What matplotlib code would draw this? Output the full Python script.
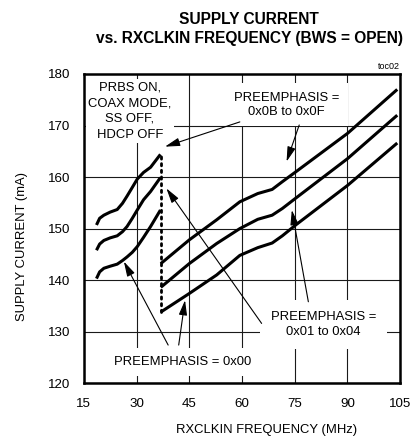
import matplotlib
matplotlib.use("Agg")
import matplotlib.pyplot as plt

plt.rcParams['font.family'] = ['Liberation Sans', 'DejaVu Sans']

# low-frequency segments (left of the dotted line)
low_x = [18.6, 19.5, 20.7, 22.5, 24.5, 26.0, 27.3, 28.8, 30.2, 32.0, 34.0, 36.8]
top_low = [150.7, 152.0, 152.6, 153.2, 153.7, 154.9, 156.3, 158.0, 159.6, 160.9, 161.9, 164.4]
mid_low = [145.8, 147.0, 147.7, 148.2, 148.6, 149.4, 150.4, 152.0, 153.6, 155.6, 157.2, 159.9]
bot_low = [140.3, 141.6, 142.3, 142.7, 143.1, 143.8, 144.5, 145.4, 146.5, 148.3, 150.4, 153.6]

# high-frequency segments
high_x = [36.9, 45.0, 52.8, 59.4, 64.5, 68.6, 71.5, 75.3, 90.1, 104.2]
top_high = [143.2, 147.8, 151.7, 155.2, 156.8, 157.6, 159.1, 161.0, 168.5, 177.0]
mid_high = [138.6, 143.2, 147.1, 150.0, 151.8, 152.6, 153.9, 155.9, 163.6, 172.0]
bot_high = [133.8, 137.4, 141.0, 144.8, 146.3, 147.2, 148.6, 150.7, 158.4, 166.6]

x_ticks = [15, 30, 45, 60, 75, 90, 105]
y_ticks = [120, 130, 140, 150, 160, 170, 180]

fs = 9.4

fig = plt.figure(figsize=(4.15, 4.43), dpi=100)
ax = fig.add_axes([0.202, 0.135, 0.762, 0.698])

for xs, ys in [(low_x, top_low), (low_x, mid_low), (low_x, bot_low),
               (high_x, top_high), (high_x, mid_high), (high_x, bot_high)]:
    ax.plot(xs, ys, color='black', lw=2.2, zorder=4, solid_capstyle='butt')

# dotted divider
ax.plot([low_x[-1] + 0.1] * 2, [bot_high[0], top_low[-1]], color='black',
        lw=2.0, linestyle=(0, (0.8, 1.6)), dash_capstyle='round', zorder=4)

ax.set_xlim(15, 105)
ax.set_ylim(120, 180)
ax.set_xticks(x_ticks)
ax.set_yticks(y_ticks)
ax.tick_params(length=0, labelsize=fs + 0.2, pad=9.5)
ax.tick_params(axis='x', pad=10.5)
ax.set_axisbelow(True)
ax.grid(True, color='0.1', lw=0.8)
for s in ax.spines.values():
    s.set_linewidth(1.8)

ax.set_xlabel('RXCLKIN FREQUENCY (MHz)', fontsize=fs)
ax.xaxis.set_label_coords(0.578, -0.133)
ax.set_ylabel('SUPPLY CURRENT (mA)', fontsize=fs)
ax.yaxis.set_label_coords(-0.178, 0.442)

fig.text(0.6, 0.957, 'SUPPLY CURRENT', ha='center', va='center',
         fontsize=11.2, fontweight='bold')
fig.text(0.6, 0.913, 'vs. RXCLKIN FREQUENCY (BWS = OPEN)', ha='center',
         va='center', fontsize=11.2, fontweight='bold')
ax.text(1.0, 1.01, 'toc02', transform=ax.transAxes, ha='right', va='bottom',
        fontsize=6.5)

box = dict(facecolor='white', edgecolor='none')
ax.text(28.1, 172.8, 'PRBS ON,\nCOAX MODE,\nSS OFF,\nHDCP OFF', ha='center',
        va='center', fontsize=fs, linespacing=1.42, zorder=3,
        bbox=dict(box, pad=1.5))
ax.text(72.7, 174.0, 'PREEMPHASIS =\n0x0B to 0x0F', ha='center', va='center',
        fontsize=fs, linespacing=1.27, zorder=3, bbox=dict(box, pad=6))
ax.text(83.2, 131.4, 'PREEMPHASIS =\n0x01 to 0x04', ha='center', va='center',
        fontsize=fs, linespacing=1.4, zorder=3, bbox=dict(box, pad=8))
ax.text(43.1, 124.1, 'PREEMPHASIS = 0x00', ha='center', va='center',
        fontsize=fs, zorder=3, bbox=dict(box, pad=6))

arrows = [
    ((59.4, 170.7), (38.1, 165.9)),
    ((76.3, 170.1), (72.7, 163.0)),
    ((65.6, 131.6), (38.5, 157.8)),
    ((78.9, 135.8), (74.2, 153.6)),
    ((39.0, 127.4), (26.4, 143.6)),
    ((42.0, 127.4), (43.8, 136.1)),
]
for start, tip in arrows:
    ax.annotate('', xy=tip, xytext=start, zorder=5,
                arrowprops=dict(arrowstyle='-|>,head_length=0.9,head_width=0.25',
                                color='black', lw=0.8, shrinkA=0, shrinkB=0))

fig.savefig('out.png', dpi=100)
